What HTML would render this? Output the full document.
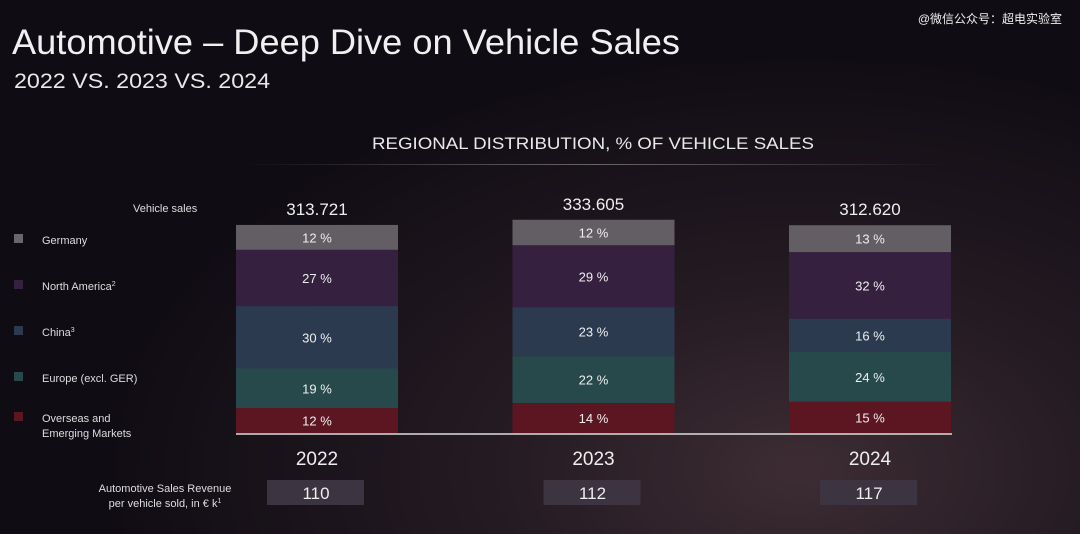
<!DOCTYPE html>
<html><head><meta charset="utf-8"><style>
body{margin:0;width:1080px;height:534px;overflow:hidden;font-family:"Liberation Sans","Noto Sans CJK SC",sans-serif;color:#eee;
background:radial-gradient(ellipse 700px 420px at 800px 470px,#3d2c33 0%,#241a22 45%,#100c13 100%);}
svg{position:absolute;left:0;top:0}
</style></head><body>
<svg width="1080" height="534">
<defs><linearGradient id="ln" x1="0" x2="1"><stop offset="0" stop-color="#fff" stop-opacity="0"/><stop offset="0.5" stop-color="#fff" stop-opacity="0.35"/><stop offset="1" stop-color="#fff" stop-opacity="0"/></linearGradient></defs>
<text x="12" y="54" font-size="35" fill="#f0f0f0" textLength="668" lengthAdjust="spacingAndGlyphs">Automotive – Deep Dive on Vehicle Sales</text>
<text x="14" y="88" font-size="21" fill="#e8e8e8" textLength="256" lengthAdjust="spacingAndGlyphs">2022 VS. 2023 VS. 2024</text>
<text x="1062" y="23" font-size="12" fill="#eee" text-anchor="end">@微信公众号：超电实验室</text>
<text x="372" y="149" font-size="17" fill="#e8e8e8" textLength="442" lengthAdjust="spacingAndGlyphs">REGIONAL DISTRIBUTION, % OF VEHICLE SALES</text>
<rect x="240" y="164" width="710" height="1" fill="url(#ln)"/>
<text x="133" y="212" font-size="11" fill="#ddd">Vehicle sales</text>
<g id="legend"></g><g id="bars"></g>
<line x1="236" x2="952" y1="434" y2="434" stroke="#ddd" stroke-width="1.5"/>
<text x="165" y="492" font-size="11" fill="#ddd" text-anchor="middle">Automotive Sales Revenue</text>
<text x="165" y="507" font-size="11" fill="#ddd" text-anchor="middle">per vehicle sold, in € k<tspan font-size="7" dy="-4">1</tspan></text>
</svg>
<script>
const years=["2022","2023","2024"];
const sales=["313.721","333.605","312.620"];
const salesK=[313.721,333.605,312.620];
const revenue=[110,112,117];
const regions=["Germany","North America","China","Europe (excl. GER)","Overseas and Emerging Markets"];
const germany=[12,12,13];
const northAmerica=[27,29,32];
const china=[30,23,16];
const europe=[19,22,24];
const overseas=[12,14,15];
const series=[germany,northAmerica,china,europe,overseas];
const colors=["#625e63","#36203f","#2c3a50","#27494c","#5c1622"];
const NS="http://www.w3.org/2000/svg";
const svg=document.querySelector('svg');
function mk(t,a,p){const e=document.createElementNS(NS,t);for(const k in a)e.setAttribute(k,a[k]);(p||svg).appendChild(e);return e;}
const base=433, barW=162;
const xPos=i=>236+i*276.5;
const hScale=s=>204.5+0.26*(s-300);
const leg=document.getElementById('legend');
const legY=[240,286,332,378,418];
const legLabels=["Germany","North America","China","Europe (excl. GER)","Overseas and"];
const sup=["","2","3","",""];
regions.forEach((r,k)=>{
 const sq=mk('rect',{x:14,y:legY[k]-6,width:9,height:9,fill:k==0?"#6a676b":colors[k]},leg);
 
 const t=mk('text',{x:42,y:legY[k]+4,'font-size':11,fill:'#ddd'},leg);
 
 t.textContent=legLabels[k];
 if(sup[k]){const s=mk('tspan',{'font-size':7,dy:-4},t);s.textContent=sup[k];}
 if(k==4){const t2=mk('text',{x:42,y:legY[k]+19,'font-size':11,fill:'#ddd'},leg);t2.textContent="Emerging Markets";}
});
const g=document.getElementById('bars');
years.forEach((y,i)=>{
 const x=xPos(i), H=hScale(salesK[i]);
 let top=base-H;
 series.forEach((s,k)=>{
  const h=H*s[i]/100;
  const r=mk('rect',{x:x,y:top,width:barW,height:h,fill:colors[k]},g);
  
  const t=mk('text',{x:x+barW/2,y:top+h/2+5,'font-size':13,fill:'#eee','text-anchor':'middle'},g);
  
  t.textContent=s[i]+" %";
  top+=h;
 });
 const st=mk('text',{x:x+barW/2,y:base-H-10,'font-size':17,fill:'#eee','text-anchor':'middle'},g);
 
 st.textContent=sales[i];
 const yl=mk('text',{x:x+barW/2,y:465,'font-size':19,fill:'#eee','text-anchor':'middle'},g);
 
 yl.textContent=y;
 const rb=mk('rect',{x:x+31,y:480,width:97,height:25,fill:'#3c3541'},g);
 
 const rt=mk('text',{x:x+80,y:499,'font-size':17,fill:'#eee','text-anchor':'middle'},g);
 
 rt.textContent=revenue[i];
});
</script>
</body></html>
